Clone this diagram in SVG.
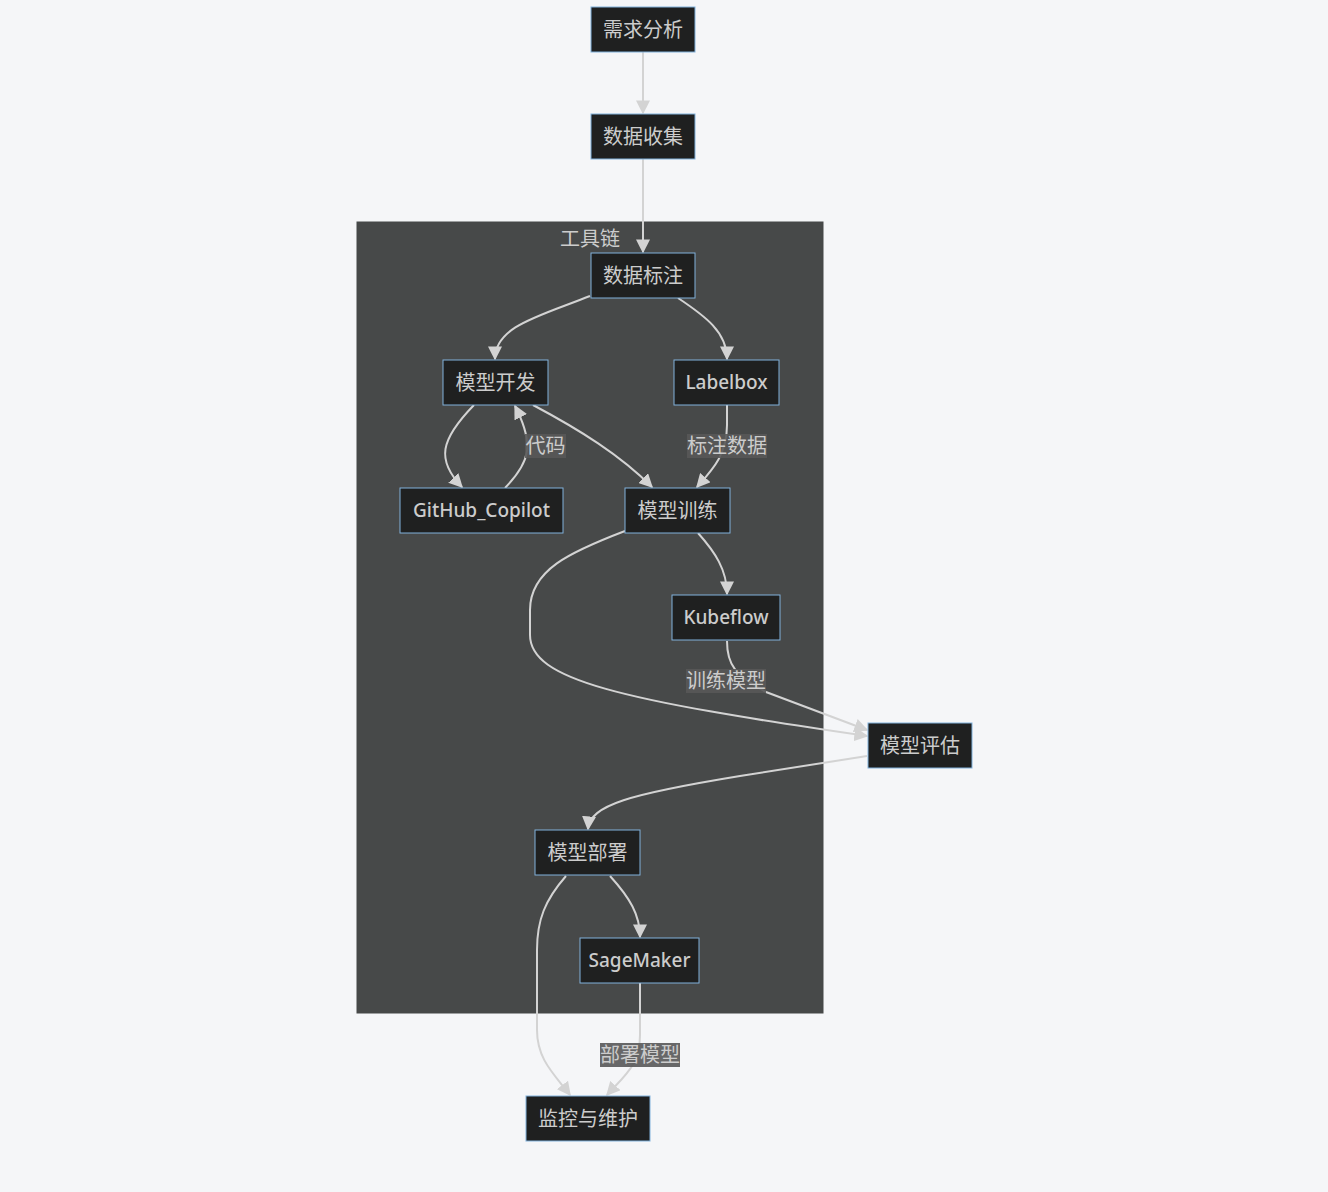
<svg xmlns="http://www.w3.org/2000/svg" width="1328" height="1192" viewBox="0 0 1328 1192">
<style>
.node rect{fill:#1f2020;stroke:#81b1db;stroke-width:1}
.node text,.lbl text,.cl text{font-family:"Noto Sans","Noto Sans CJK SC",sans-serif;font-size:20px;fill:#cccccc;text-anchor:middle}
.node text.lat{font-size:19px;font-weight:500}
.edges path{fill:none;stroke:#d3d3d3;stroke-width:2}
.lbl rect{fill:#585858;opacity:0.9}
</style>
<defs>
<marker id="ah" viewBox="0 0 10 10" refX="9" refY="5" markerWidth="14" markerHeight="14" markerUnits="userSpaceOnUse" orient="auto">
<path d="M0,0 L10,5 L0,10 z" fill="#d3d3d3"/>
</marker>
</defs>
<rect width="1328" height="1192" fill="#f5f6f8"/>
<g id="cluster-toolchain" class="cl">
<rect x="357" y="222" width="466" height="791" fill="#474949" stroke="#474949"/>
<text x="590" y="246">工具链</text>
</g>
<g class="edges" id="edges">
<path d="M643,52 L643,113" marker-end="url(#ah)"/>
<path d="M643,159 L643,252" marker-end="url(#ah)"/>
<path d="M590,296 C540,316 495,326 495,359" marker-end="url(#ah)"/>
<path d="M678,298 C705,316 727,332 727,359" marker-end="url(#ah)"/>
<path d="M474,405 C440,440 436,460 462,487" marker-end="url(#ah)"/>
<path d="M505,488 C530,462 535,445 515,406" marker-end="url(#ah)"/>
<path d="M533,405 C580,430 620,455 652,487" marker-end="url(#ah)"/>
<path d="M727,405 L727,425 C727,455 712,470 697,487" marker-end="url(#ah)"/>
<path d="M698,533 C715,552 727,570 727,594" marker-end="url(#ah)"/>
<path d="M625,531 C570,552 530,570 530,610 L530,635 C530,680 620,700 867,736" marker-end="url(#ah)"/>
<path d="M727,641 C727,665 735,675 766,692 L867,730" marker-end="url(#ah)"/>
<path d="M867,756 L740,776 C630,794 590,805 588,829" marker-end="url(#ah)"/>
<path d="M610,876 C630,898 640,915 640,937" marker-end="url(#ah)"/>
<path d="M566,876 C545,900 537,920 537,950 L537,1030 C537,1060 555,1075 570,1095" marker-end="url(#ah)"/>
<path d="M640,983 L640,1035 C640,1065 625,1075 607,1095" marker-end="url(#ah)"/>
</g>
<g class="lbl" id="label-code"><rect x="525" y="434" width="41" height="24"/><text x="545.5" y="453">代码</text></g>
<g class="lbl" id="label-annot"><rect x="687" y="434" width="80" height="24"/><text x="727" y="453">标注数据</text></g>
<g class="lbl" id="label-train"><rect x="686" y="669" width="80" height="24"/><text x="726" y="688">训练模型</text></g>
<g class="lbl" id="label-deploy"><rect x="600" y="1043" width="80" height="24"/><text x="640" y="1062">部署模型</text></g>
<g class="node" id="n-req"><rect x="591" y="7" width="104" height="45"/><text x="643" y="37">需求分析</text></g>
<g class="node" id="n-collect"><rect x="591" y="114" width="104" height="45"/><text x="643" y="144">数据收集</text></g>
<g class="node" id="n-annot"><rect x="591" y="253" width="104" height="45"/><text x="643" y="283">数据标注</text></g>
<g class="node" id="n-dev"><rect x="443" y="360" width="105" height="45"/><text x="495.5" y="390">模型开发</text></g>
<g class="node" id="n-labelbox"><rect x="674" y="360" width="105" height="45"/><text class="lat" x="726.5" y="389">Labelbox</text></g>
<g class="node" id="n-copilot"><rect x="400" y="488" width="163" height="45"/><text class="lat" x="481.5" y="517">GitHub_Copilot</text></g>
<g class="node" id="n-train"><rect x="625" y="488" width="105" height="45"/><text x="677.5" y="518">模型训练</text></g>
<g class="node" id="n-kubeflow"><rect x="672" y="595" width="108" height="45"/><text class="lat" x="726" y="624">Kubeflow</text></g>
<g class="node" id="n-eval"><rect x="868" y="723" width="104" height="45"/><text x="920" y="753">模型评估</text></g>
<g class="node" id="n-deploy"><rect x="535" y="830" width="105" height="45"/><text x="587.5" y="860">模型部署</text></g>
<g class="node" id="n-sagemaker"><rect x="580" y="938" width="119" height="45"/><text class="lat" x="639.5" y="967">SageMaker</text></g>
<g class="node" id="n-monitor"><rect x="526" y="1096" width="124" height="45"/><text x="588" y="1126">监控与维护</text></g>
</svg>
